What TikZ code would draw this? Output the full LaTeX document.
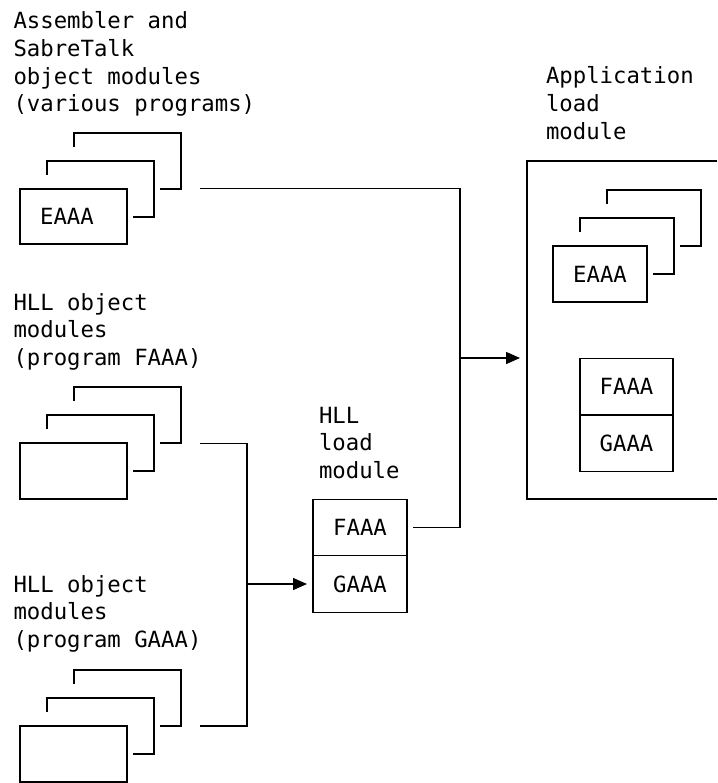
\documentclass[tikz,border=0pt]{standalone}
\usepackage{fontspec}
\setmonofont{DejaVu Sans Mono}
\usetikzlibrary{arrows.meta,calc}
\newcommand{\lbl}[1]{\begin{tabular}[t]{@{}l@{}}#1\end{tabular}}
\newcommand{\stackbehind}[1]{%
  \draw[ln] ($(#1.north west)+(27,-14)$) -- ++(0,-14) -- ($(#1.north east)+(27,-28)$) -- ($(#1.north east)+(27,28)$) -- ($(#1.north east)+(6,28)$);
  \draw[ln] ($(#1.north west)+(54,-42)$) -- ++(0,-14) -- ($(#1.north east)+(54,-56)$) -- ($(#1.north east)+(54,0)$) -- ($(#1.north east)+(33,0)$);
}
\begin{document}
\begin{tikzpicture}[x=1pt,y=-1pt,
  every node/.style={font=\ttfamily\fontsize{22.3}{27.9}\selectfont, inner sep=0pt, outer sep=0pt},
  ln/.style={line width=1.4pt},
  arr/.style={ln, -{Triangle[length=14pt,width=12pt]}},
  lab/.style={anchor=base west},
  objbox/.style={draw, line width=1.4pt, minimum width=107pt, minimum height=55pt},
  modbox/.style={draw, line width=1.4pt, minimum width=94pt, minimum height=56.5pt}
]
\useasboundingbox (0,0) rectangle (717,783);

% labels
\node[lab] (t1) at (13.5,28.3) {\lbl{Assembler and\\SabreTalk\\object modules\\(various programs)}};
\node[lab] (t2) at (13.5,310) {\lbl{HLL object\\modules\\(program FAAA)}};
\node[lab] (t3) at (13.5,592) {\lbl{HLL object\\modules\\(program GAAA)}};
\node[lab] (t4) at (319,423) {\lbl{HLL\\load\\module}};
\node[lab] (t5) at (546,83.3) {\lbl{Application\\load\\module}};

% object module stacks
\node[objbox, label={[xshift=-6.5pt]center:EAAA}] (f1) at (73.5,216.5) {};
\node[objbox, minimum height=56pt] (f2) at (73.5,471) {};
\node[objbox, minimum height=56pt] (f3) at (73.5,754) {};
\stackbehind{f1}
\stackbehind{f2}
\stackbehind{f3}

% HLL load module
\node[modbox] (hf) at (360,527.5) {FAAA};
\node[modbox] (hg) at (360,584) {GAAA};

% application load module
\node[minimum width=190pt, minimum height=338pt] (app) at (622,330) {};
\draw[ln] (app.north east) -- (app.north west) -- (app.south west) -- (app.south east);
\node[modbox, minimum height=56pt] (ae) at (600,274) {EAAA};
\stackbehind{ae}
\node[modbox, minimum width=93pt] (af) at (626.5,386.5) {FAAA};
\node[modbox, minimum width=93pt] (ag) at (626.5,443.5) {GAAA};

% connectors
\coordinate (s1) at (200,188.5);
\coordinate (j1) at (460,188.5);
\coordinate (j2) at (460,358);
\draw[ln] (s1) -- (j1) |- ([xshift=6pt]hf.east);
\draw[arr, shorten >=7pt] (j2) -- (j2 -| app.west);

\coordinate (s2) at (200,443.5);
\coordinate (s3) at (200,726);
\coordinate (j3) at (247,443.5);
\draw[ln] (s2) -- (j3) |- (s3);
\draw[arr] (j3 |- hg.west) -- ([xshift=-6pt]hg.west);
\end{tikzpicture}
\end{document}
